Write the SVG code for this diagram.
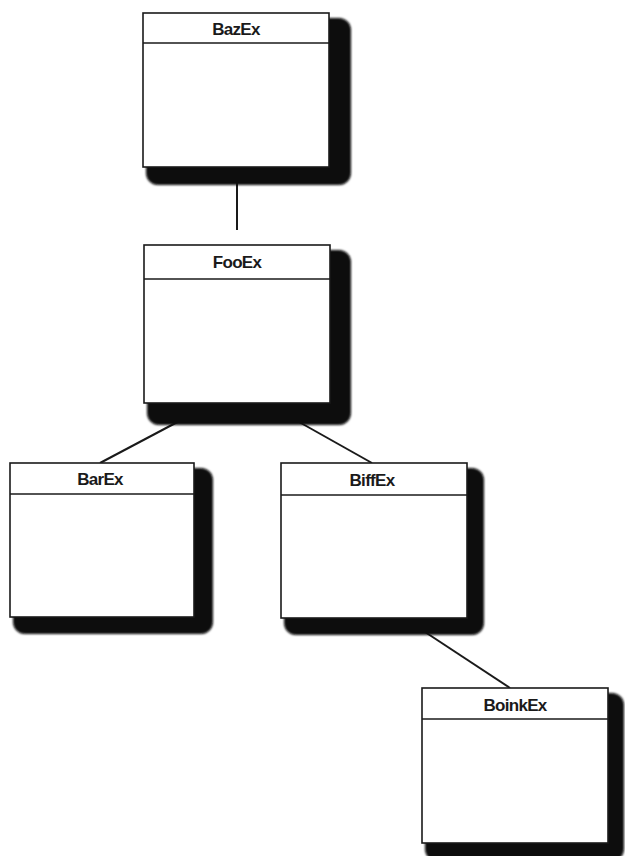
<svg xmlns="http://www.w3.org/2000/svg" width="625" height="856" viewBox="0 0 625 856">
<defs>
<filter id="soft" x="-10%" y="-10%" width="120%" height="120%"><feGaussianBlur stdDeviation="0.8"/></filter>
</defs>
<style>
.shadow{fill:#080808;filter:url(#soft)}
.box{fill:#ffffff;stroke:#1a1a1a;stroke-width:1.6}
.div{stroke:#1a1a1a;stroke-width:1.6}
.name{font-family:"Liberation Sans",Arial,sans-serif;font-weight:bold;font-size:17px;fill:#1a1a1a;text-anchor:middle;letter-spacing:-0.7px}
.conn{stroke:#1a1a1a;stroke-width:2;fill:none}
</style>
<rect width="625" height="856" fill="#ffffff"/>
<g id="connectors">
<line class="conn" x1="237" y1="180" x2="237" y2="230"/>
<line class="conn" x1="185" y1="418" x2="100" y2="463"/>
<line class="conn" x1="292" y1="418" x2="372" y2="463"/>
<line class="conn" x1="422" y1="630" x2="510" y2="688"/>
</g>
<g id="BazEx">
<rect class="shadow" x="146" y="18" width="205" height="167" rx="12"/>
<rect class="box" x="143" y="13" width="186" height="154"/>
<line class="div" x1="143" y1="43" x2="329" y2="43"/>
<text class="name" x="236" y="35">BazEx</text>
</g>
<g id="FooEx">
<rect class="shadow" x="147" y="250" width="204" height="175" rx="12"/>
<rect class="box" x="144" y="245" width="186" height="158"/>
<line class="div" x1="144" y1="279" x2="330" y2="279"/>
<text class="name" x="237" y="268">FooEx</text>
</g>
<g id="BarEx">
<rect class="shadow" x="13" y="468" width="200" height="166" rx="12"/>
<rect class="box" x="10" y="463" width="184" height="154"/>
<line class="div" x1="10" y1="494" x2="194" y2="494"/>
<text class="name" x="100" y="485">BarEx</text>
</g>
<g id="BiffEx">
<rect class="shadow" x="284" y="468" width="200" height="167" rx="12"/>
<rect class="box" x="281" y="463" width="186" height="155"/>
<line class="div" x1="281" y1="495" x2="467" y2="495"/>
<text class="name" x="372" y="486">BiffEx</text>
</g>
<g id="BoinkEx">
<rect class="shadow" x="425" y="693" width="199" height="168" rx="12"/>
<rect class="box" x="422" y="688" width="186" height="155"/>
<line class="div" x1="422" y1="719" x2="608" y2="719"/>
<text class="name" x="515" y="711">BoinkEx</text>
</g>
</svg>
